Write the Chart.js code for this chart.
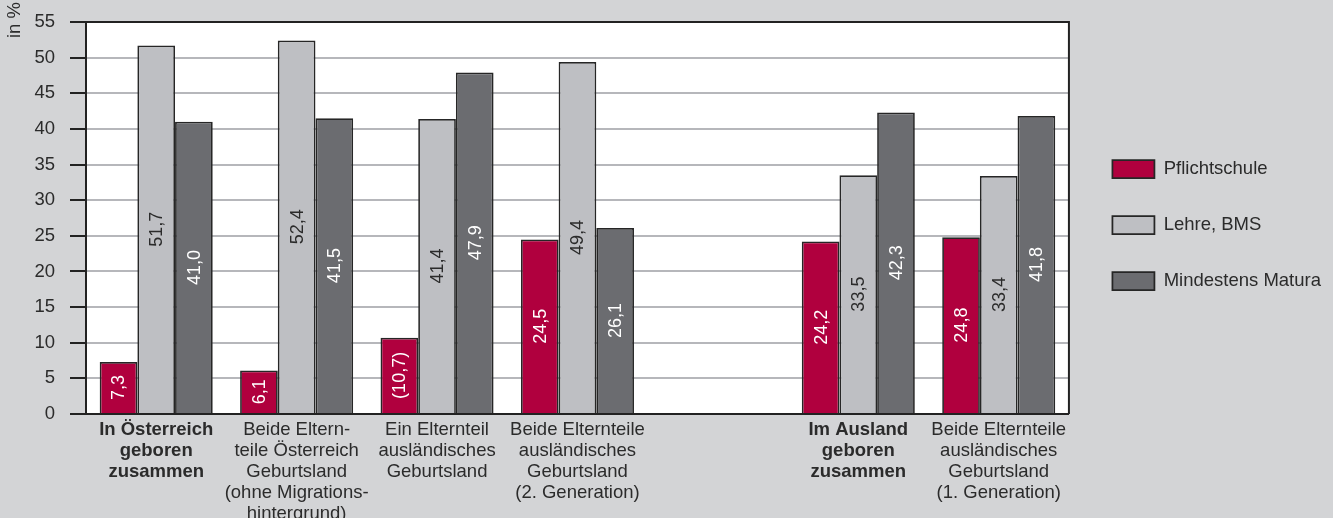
<!DOCTYPE html>
<html lang="de">
<head>
<meta charset="utf-8">
<title>Bildungsstand nach Migrationshintergrund</title>
<script src="https://cdn.jsdelivr.net/npm/chart.js@4.4.1/dist/chart.umd.min.js"></script>
<style>
  html, body { margin: 0; padding: 0; background: #d3d4d6; }
  #wrap { width: 1333px; height: 518px; position: relative; }
</style>
</head>
<body>
<div id="wrap"><canvas id="myChart"></canvas></div>
<script>
// categories (slot 4 stays empty as a spacer between the two blocks)
const categories = [
  ["In Österreich", "geboren", "zusammen"],
  ["Beide Eltern-", "teile Österreich", "Geburtsland", "(ohne Migrations-", "hintergrund)"],
  ["Ein Elternteil", "ausländisches", "Geburtsland"],
  ["Beide Elternteile", "ausländisches", "Geburtsland", "(2. Generation)"],
  "",
  ["Im Ausland", "geboren", "zusammen"],
  ["Beide Elternteile", "ausländisches", "Geburtsland", "(1. Generation)"]
];
const boldCategories = [0, 5];

const pflichtschule = [7.3, 6.1, 10.7, 24.5, null, 24.2, 24.8];
const lehreBms = [51.7, 52.4, 41.4, 49.4, null, 33.5, 33.4];
const matura = [41.0, 41.5, 47.9, 26.1, null, 42.3, 41.8];

// values shown in brackets (small sample)
const bracketed = [[0, 2]]; // [datasetIndex, categoryIndex]

const yTicks = [0, 5, 10, 15, 20, 25, 30, 35, 40, 45, 50, 55];

const FONT = "'Liberation Sans', Arial, sans-serif";
const TEXT = "#2b2b2b";
const FONT_SIZE = 18.5;

function fmt(v) {
  return v.toFixed(1).replace(".", ",");
}

// white plot area + frame on top/right, unit label
const plotFrame = {
  id: "plotFrame",
  afterLayout(chart) {
    // push legend a bit right/down so it sits next to the plot
    const lg = chart.legend;
    if (lg) {
      lg.left += 6; lg.right += 6;
      lg.top += 7; lg.bottom += 7;
    }
  },
  beforeDraw(chart) {
    const { ctx, chartArea: a } = chart;
    ctx.save();
    ctx.fillStyle = "#ffffff";
    ctx.fillRect(a.left, a.top, a.right - a.left, a.bottom - a.top);
    ctx.restore();
  },
  afterDraw(chart) {
    const { ctx, chartArea: a } = chart;
    ctx.save();
    ctx.strokeStyle = "#222";
    ctx.lineWidth = 2;
    ctx.beginPath();
    ctx.moveTo(a.left, a.top);
    ctx.lineTo(a.right, a.top);
    ctx.lineTo(a.right, a.bottom);
    ctx.stroke();
    ctx.fillStyle = TEXT;
    ctx.font = "18.5px " + FONT;
    ctx.translate(15, 38);
    ctx.rotate(-Math.PI / 2);
    ctx.textAlign = "left";
    ctx.textBaseline = "middle";
    ctx.fillText("in %", 0, 0);
    ctx.restore();
  }
};

// rotated value labels centred in each bar
const barValues = {
  id: "barValues",
  afterDatasetsDraw(chart) {
    const { ctx } = chart;
    ctx.save();
    ctx.font = "18px " + FONT;
    ctx.textAlign = "center";
    ctx.textBaseline = "middle";
    chart.data.datasets.forEach((ds, di) => {
      const meta = chart.getDatasetMeta(di);
      meta.data.forEach((bar, i) => {
        const v = ds.data[i];
        if (v === null || v === undefined) return;
        let txt = fmt(v);
        if (bracketed.some(([d, c]) => d === di && c === i)) txt = "(" + txt + ")";
        const yMid = (bar.y + bar.base) / 2;
        ctx.save();
        ctx.translate(bar.x + 1, yMid);
        ctx.rotate(-Math.PI / 2);
        ctx.fillStyle = ds.labelColor;
        ctx.fillText(txt, 0, 0);
        ctx.restore();
      });
    });
    ctx.restore();
  }
};

const ctx = document.getElementById("myChart");

new Chart(ctx, {
  type: "bar",
  data: {
    labels: categories,
    datasets: [
      {
        label: "Pflichtschule",
        data: pflichtschule,
        backgroundColor: "#b0003e",
        borderColor: "#262626",
        borderWidth: 1.75,
        labelColor: "#ffffff"
      },
      {
        label: "Lehre, BMS",
        data: lehreBms,
        backgroundColor: "#bebfc3",
        borderColor: "#262626",
        borderWidth: 1.75,
        labelColor: "#2b2b2b"
      },
      {
        label: "Mindestens Matura",
        data: matura,
        backgroundColor: "#6b6c70",
        borderColor: "#262626",
        borderWidth: 1.75,
        labelColor: "#ffffff"
      }
    ]
  },
  options: {
    responsive: true,
    maintainAspectRatio: false,
    animation: false,
    layout: {
      padding: { top: 22, left: 0, right: 8, bottom: 0 }
    },
    datasets: {
      bar: {
        categoryPercentage: 0.805,
        barPercentage: 1.0
      }
    },
    scales: {
      x: {
        grid: { display: false, drawTicks: false },
        border: { display: true, color: "#222", width: 2 },
        ticks: {
          autoSkip: false,
          maxRotation: 0,
          padding: 5,
          color: TEXT,
          font: (c) => ({
            family: FONT,
            size: FONT_SIZE,
            lineHeight: 1.135,
            weight: boldCategories.includes(c.index) ? "bold" : "normal"
          })
        },
        afterFit: (scale) => { scale.height = 104; }
      },
      y: {
        min: 0,
        max: 55,
        afterBuildTicks: (scale) => {
          scale.ticks = yTicks.map((v) => ({ value: v }));
        },
        grid: {
          color: "#b6b7bb",
          lineWidth: 2,
          tickColor: "#222",
          tickLength: 16,
          tickWidth: 2
        },
        border: { display: true, color: "#222", width: 2 },
        ticks: {
          padding: 15,
          color: TEXT,
          font: { family: FONT, size: FONT_SIZE }
        },
        afterFit: (scale) => {
          scale.width = 86;
          // top label may overhang the plot; keep the plot top fixed
          scale.paddingTop = 0;
          scale.paddingBottom = 0;
        }
      }
    },
    plugins: {
      legend: {
        position: "right",
        align: "center",
        fullSize: false,
        labels: {
          boxWidth: 42,
          boxHeight: 18,
          padding: 37.5,
          color: TEXT,
          font: { family: FONT, size: FONT_SIZE }
        }
      },
      tooltip: { enabled: false }
    }
  },
  plugins: [plotFrame, barValues]
});
</script>
</body>
</html>
